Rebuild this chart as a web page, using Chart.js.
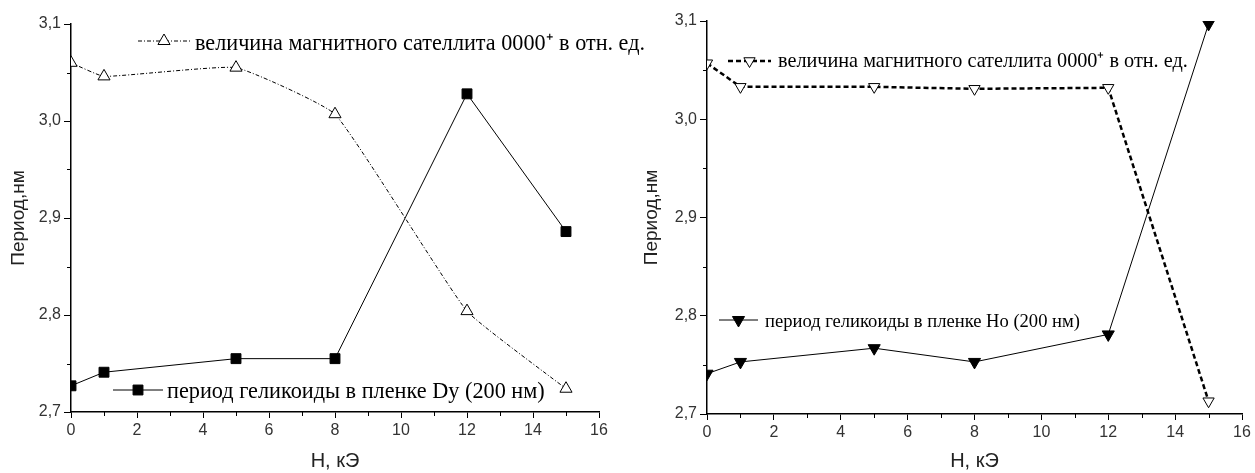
<!DOCTYPE html>
<html><head><meta charset="utf-8">
<script src="https://cdn.jsdelivr.net/npm/chart.js@4/dist/chart.umd.min.js"></script>
<style>
html,body{margin:0;padding:0;background:#fff;width:1255px;height:473px;overflow:hidden;}
#w1{position:absolute;left:0;top:0;width:700px;height:473px;}
#w2{position:absolute;left:630px;top:0;width:625px;height:473px;}
</style></head><body>
<div id="w1"><canvas id="c1"></canvas></div>
<div id="w2"><canvas id="c2"></canvas></div>
<script>
// ---- data ----
const fieldKOe = [0, 1, 5, 8, 12, 15];
const satelliteDy = [3.060, 3.046, 3.055, 3.007, 2.804, 2.724];
const periodDy = [2.727, 2.741, 2.755, 2.755, 3.028, 2.886];
const satelliteHo = [3.057, 3.033, 3.033, 3.031, 3.032, 2.713];
const periodHo = [2.741, 2.753, 2.767, 2.753, 2.781, 3.097];
const xTickValues = [0, 2, 4, 6, 8, 10, 12, 14, 16];
const xMinorValues = [1, 3, 5, 7, 9, 11, 13, 15];
const yTickValues = [2.7, 2.8, 2.9, 3.0, 3.1];
const yMinorValues = [2.75, 2.85, 2.95, 3.05];
const labelSatellite = 'величина магнитного сателлита 0000\u207A в отн. ед.';
const labelPeriodDy = 'период геликоиды в пленке Dy (200 нм)';
const labelPeriodHo = 'период геликоиды в пленке Ho (200 нм)';
const yTitle = 'Период,нм';
const xTitle = 'H, кЭ';

const pts = ys => fieldKOe.map((x, i) => ({x: x, y: ys[i]}));

const minorTicks = {
  id: 'minorTicks',
  afterDraw(chart) {
    const ctx = chart.ctx, xs = chart.scales.x, ys = chart.scales.y;
    const a = chart.chartArea;
    ctx.save();
    ctx.strokeStyle = '#000'; ctx.lineWidth = 1;
    ctx.beginPath();
    xMinorValues.forEach(v => { const p = Math.round(xs.getPixelForValue(v)) + 0.5; ctx.moveTo(p, a.bottom); ctx.lineTo(p, a.bottom + 4); });
    yMinorValues.forEach(v => { const p = Math.round(ys.getPixelForValue(v)) + 0.5; ctx.moveTo(a.left, p); ctx.lineTo(a.left - 4, p); });
    ctx.stroke();
    ctx.restore();
  }
};

const placedLegend = {
  id: 'placedLegend',
  afterDraw(chart, args, opts) {
    const ctx = chart.ctx;
    (opts.items || []).forEach(it => {
      const ds = chart.data.datasets[it.ds];
      ctx.save();
      ctx.strokeStyle = ds.borderColor; ctx.lineWidth = ds.borderWidth;
      ctx.setLineDash(ds.borderDash || []);
      ctx.beginPath(); ctx.moveTo(it.x1, it.y); ctx.lineTo(it.x2, it.y); ctx.stroke();
      ctx.setLineDash([]);
      ctx.fillStyle = ds.pointBackgroundColor; ctx.strokeStyle = ds.pointBorderColor;
      ctx.lineWidth = ds.pointBorderWidth;
      Chart.helpers.drawPoint(ctx, {pointStyle: ds.pointStyle, rotation: ds.pointRotation || 0, radius: ds.pointRadius, borderWidth: ds.pointBorderWidth}, (it.x1 + it.x2) / 2, it.y);
      ctx.font = '20px "Liberation Serif"';
      const w = ctx.measureText(ds.label).width;
      const size = 20 * it.w / w;
      ctx.font = size.toFixed(2) + 'px "Liberation Serif"';
      ctx.fillStyle = '#000'; ctx.textBaseline = 'middle'; ctx.textAlign = 'left';
      ctx.fillText(ds.label, it.tx, it.ty);
      ctx.restore();
    });
  }
};

function makeChart(id, datasets, geo) {
  return new Chart(document.getElementById(id), {
    type: 'line',
    data: {datasets: datasets},
    plugins: [minorTicks, placedLegend],
    options: {
      responsive: true, maintainAspectRatio: false, animation: false,
      layout: {padding: geo.padding},
      plugins: {legend: {display: false}, tooltip: {enabled: false}, placedLegend: {items: geo.legend}},
      scales: {
        x: {
          type: 'linear', min: 0, max: 16,
          afterBuildTicks: s => { s.ticks = xTickValues.map(v => ({value: v})); },
          afterFit: s => { s.height = geo.xh; },
          grid: {drawOnChartArea: false, drawTicks: true, tickLength: 6, tickColor: '#000', tickWidth: 1},
          border: {display: true, color: '#000', width: 1.5},
          ticks: {color: '#333', font: {family: '"Liberation Sans"', size: 16}, padding: 3, maxRotation: 0,
                  callback: v => String(v)},
          title: {display: true, text: xTitle, color: '#222', font: {family: '"Liberation Sans"', size: 20}, padding: {top: 0, bottom: geo.xtp}}
        },
        y: {
          type: 'linear', min: 2.7, max: 3.1,
          afterBuildTicks: s => { s.ticks = yTickValues.map(v => ({value: v})); },
          afterFit: s => { s.width = geo.yw; },
          grid: {drawOnChartArea: false, drawTicks: true, tickLength: 7, tickColor: '#000', tickWidth: 1},
          border: {display: true, color: '#000', width: 1.5},
          ticks: {color: '#333', font: {family: '"Liberation Sans"', size: 16}, padding: 3,
                  callback: v => Number(v).toFixed(1).replace('.', ',')},
          title: {display: true, text: yTitle, color: '#222', font: {family: '"Liberation Sans"', size: 19}, padding: {top: geo.ytp, bottom: 0}}
        }
      }
    }
  });
}

makeChart('c1', [
  {label: labelSatellite, data: pts(satelliteDy), borderColor: '#000', borderWidth: 1, borderDash: [4, 2, 1, 2],
   tension: 0.12, pointStyle: 'triangle', pointRadius: 7, pointBorderWidth: 1,
   pointBackgroundColor: '#fff', pointBorderColor: '#000'},
  {label: labelPeriodDy, data: pts(periodDy), borderColor: '#000', borderWidth: 1, tension: 0,
   pointStyle: 'rect', pointRadius: 7, pointBorderWidth: 1, pointBackgroundColor: '#000', pointBorderColor: '#000'}
], {
  padding: {left: 0, right: 101, top: 24, bottom: 0}, yw: 71, xh: 61, xtp: 0, ytp: 7,
  legend: [
    {ds: 0, x1: 138, x2: 190, y: 41, tx: 195, ty: 44, w: 450},
    {ds: 1, x1: 113, x2: 163, y: 390, tx: 167, ty: 392, w: 378}
  ]
});

makeChart('c2', [
  {label: labelSatellite, data: pts(satelliteHo), borderColor: '#000', borderWidth: 2.5, borderDash: [5, 3],
   tension: 0, pointStyle: 'triangle', pointRotation: 180, pointRadius: 6.5, pointBorderWidth: 1,
   pointBackgroundColor: '#fff', pointBorderColor: '#000'},
  {label: labelPeriodHo, data: pts(periodHo), borderColor: '#000', borderWidth: 1, tension: 0,
   pointStyle: 'triangle', pointRotation: 180, pointRadius: 7, pointBorderWidth: 1,
   pointBackgroundColor: '#000', pointBorderColor: '#000'}
], {
  padding: {left: 0, right: 13, top: 21, bottom: 0}, yw: 77, xh: 59, xtp: 0, ytp: 10,
  legend: [
    {ds: 0, x1: 98, x2: 141, y: 61, tx: 148, ty: 62, w: 410},
    {ds: 1, x1: 89, x2: 128, y: 320, tx: 135, ty: 322, w: 315}
  ]
});
</script>
</body></html>
